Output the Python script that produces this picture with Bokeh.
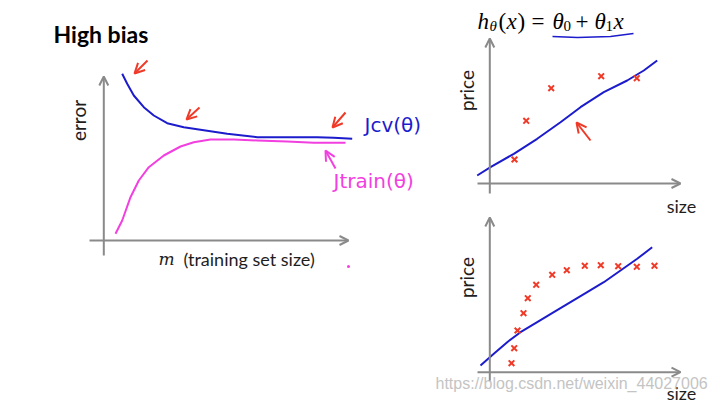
from bokeh.plotting import figure
from bokeh.models import Range1d, Arrow, OpenHead
from bokeh.embed import file_html
from bokeh.resources import INLINE
from bokeh.core.properties import value
import math

# ---------------- data (slide coordinates, y grows downward) ----------------
# Left learning-curve panel
jcv_x = [121.7, 126.7, 133.3, 143.3, 153.3, 166.7, 183.3, 200, 226.7, 256.7, 286.7, 316.7, 333.3, 351.7]
jcv_y = [73.3, 83.3, 95, 106.7, 115, 122.7, 126.7, 129.3, 133.3, 136.7, 136.7, 136.7, 137.3, 138.3]
jtrain_x = [115, 121.7, 130, 138.3, 148.3, 163.3, 180, 193.3, 210, 233.3, 256.7, 286.7, 313.3, 345]
jtrain_y = [233.3, 220, 196.7, 180, 166.7, 155, 146, 141.7, 139, 139, 140, 141, 142.3, 142.3]

# Top-right panel: linear fit + training points
fit1_x = [476.7, 490, 513.3, 536.7, 560, 580, 603.3, 626.7, 643.3, 656.7]
fit1_y = [175, 166.7, 153.3, 138.3, 121.7, 106.7, 91.7, 80, 70, 60]
pts1_x = [514, 525.7, 550.7, 600.7, 636.3]
pts1_y = [159, 120.3, 87.7, 75.7, 77.7]

# Bottom-right panel: linear fit + training points
fit2_x = [480, 493.3, 506.7, 520, 536.7, 553.3, 570, 586.7, 603.3, 620, 636.7, 651.7]
fit2_y = [365, 353.3, 341.7, 331.7, 321.7, 311.7, 301.7, 291.7, 281.7, 270, 258.3, 246.7]
pts2_x = [511, 513.7, 517, 523, 527.3, 535.7, 551.7, 566.3, 584.3, 600.3, 617.7, 636.3, 654]
pts2_y = [362.7, 347.7, 330, 312.7, 297.7, 284.3, 274.3, 269.7, 265.3, 264.7, 265.7, 266.3, 265.3]

# formula underline
ul_x = [552, 577, 610, 633]
ul_y = [36, 37, 36, 33]

BLUE = "#1c1ccc"
MAGENTA = "#f23fe0"
RED = "#f03a28"
GRAY = "#8a8a8a"
INK = "#1e1e1e"

p = figure(width=716, height=403, x_range=Range1d(0, 716), y_range=Range1d(403, 0),
           output_backend="svg", toolbar_location=None, min_border=0)
p.axis.visible = False
p.grid.visible = False
p.outline_line_color = None
p.background_fill_color = "white"
p.border_fill_color = "white"

# ---- axes (gray arrows) ----
axes = [
    (103.3, 255, 103.3, 76), (89, 240, 348, 240),
    (489.3, 193, 489.3, 38), (477, 183, 680, 183),
    (489.3, 380, 489.3, 217), (477, 371.7, 680, 371.7),
]
for xs, ys, xe, ye in axes:
    p.add_layout(Arrow(x_start=xs, y_start=ys, x_end=xe, y_end=ye,
                       line_color=GRAY, line_width=2,
                       end=OpenHead(size=9, line_color=GRAY, line_width=2)))

# ---- curves ----
p.line(jcv_x, jcv_y, line_color=BLUE, line_width=2, line_join="round")
p.line(jtrain_x, jtrain_y, line_color=MAGENTA, line_width=2, line_join="round")
p.line(fit1_x, fit1_y, line_color=BLUE, line_width=2, line_join="round")
p.line(fit2_x, fit2_y, line_color=BLUE, line_width=2, line_join="round")
p.line(ul_x, ul_y, line_color=BLUE, line_width=1.6, line_join="round")

# ---- points ----
p.scatter(pts1_x, pts1_y, marker="x", size=8, line_color=RED, line_width=2)
p.scatter(pts2_x, pts2_y, marker="x", size=8, line_color=RED, line_width=2)

# ---- hand-drawn arrows ----
hand_arrows = [
    (147, 60, 134, 73, RED), (199, 107, 186, 119, RED), (345, 112, 332, 127, RED),
    (590, 140, 576, 122, RED), (335, 168, 325, 150, MAGENTA),
]
for xs, ys, xe, ye, c in hand_arrows:
    p.add_layout(Arrow(x_start=xs, y_start=ys, x_end=xe, y_end=ye,
                       line_color=c, line_width=2,
                       end=OpenHead(size=10, line_color=c, line_width=2)))

# ---- texts ----
p.text([53], [33], text=["High bias"], text_font=value("Lato"), text_font_style="bold",
       text_font_size="23px", text_color="black", text_baseline="middle")
p.text([78], [120], text=["error"], angle=math.pi / 2, text_font=value("Lato"),
       text_font_size="19px", text_color=INK, text_align="center", text_baseline="middle")
p.text([158], [258], text=["m"], text_font=value("DejaVu Serif"), text_font_style="italic",
       text_font_size="17px", text_color=INK, text_baseline="middle")
p.text([183], [258], text=["(training set size)"], text_font=value("Lato"),
       text_font_size="18px", text_color=INK, text_baseline="middle")
p.scatter([348], [266], size=3, color=MAGENTA, line_color=None)

p.text([364], [124], text=["Jcv(θ)"], text_font=value("DejaVu Sans"),
       text_font_size="20px", text_color=BLUE, text_baseline="middle")
p.text([333], [180], text=["Jtrain(θ)"], text_font=value("DejaVu Sans"),
       text_font_size="20px", text_color=MAGENTA, text_baseline="middle")

# formula h_θ(x) = θ_0 + θ_1 x
FS = "23px"
SS = "15px"
ff = value("Liberation Serif")
BL = 21
SB = 25
formula_parts = [
    (477, BL, "h", FS, "italic"), (489, SB, "θ", SS, "italic"), (498, BL, "(", FS, "normal"),
    (506, BL, "x", FS, "italic"), (517, BL, ")", FS, "normal"), (531, BL, "=", FS, "normal"),
    (552, BL, "θ", FS, "italic"), (563, SB, "0", SS, "normal"), (575, BL, "+", FS, "normal"),
    (594, BL, "θ", FS, "italic"), (605, SB, "1", SS, "normal"), (613, BL, "x", FS, "italic"),
]
for x0, y0, t, fs, st in formula_parts:
    p.text([x0], [y0], text=[t], text_font=ff, text_font_style=st, text_font_size=fs,
           text_color="black", text_baseline="alphabetic")

for yc in [90, 277]:
    p.text([466], [yc], text=["price"], angle=math.pi / 2, text_font=value("Lato"),
           text_font_size="19px", text_color=INK, text_align="center",
           text_baseline="middle")
for yc in [205, 392]:
    p.text([681], [yc], text=["size"], text_font=value("Lato"),
           text_font_size="18px", text_color=INK, text_align="center",
           text_baseline="middle")

p.text([435], [383], text=["https://blog.csdn.net/weixin_44027006"],
       text_font=value("Liberation Sans"), text_font_size="16px", text_color="#c4c4c4",
       text_baseline="middle")

open("out.html", "w").write(file_html(p, INLINE))
